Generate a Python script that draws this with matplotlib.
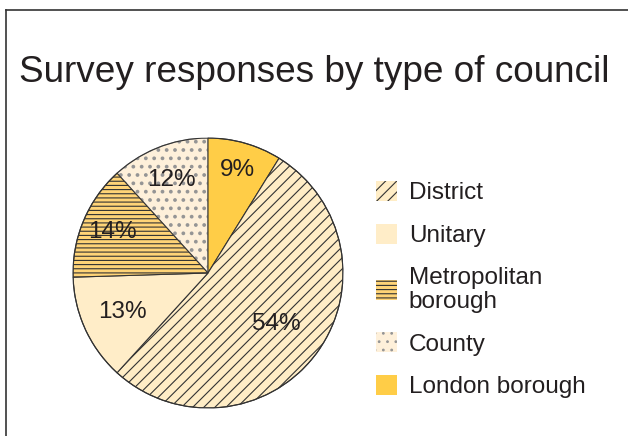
import matplotlib
matplotlib.use("Agg")
import matplotlib.pyplot as plt
from matplotlib.patches import Patch, Circle
from matplotlib.lines import Line2D
import numpy as np

plt.rcParams['font.family'] = ['Liberation Sans', 'DejaVu Sans']
plt.rcParams['hatch.linewidth'] = 0.8

# Data (pie order: clockwise from 12 o'clock)
categories = ["London borough", "District", "Unitary", "Metropolitan\nborough", "County"]
shares = [9, 54, 13, 14, 12]
legend_order = ["District", "Unitary", "Metropolitan\nborough", "County", "London borough"]

# Styles
fills = {"London borough": "#FFCD47", "District": "#FFEDC6", "Unitary": "#FFEDC8",
         "Metropolitan\nborough": "#FFD477", "County": "#FEF0DA"}
hatches = {"London borough": None, "District": "///", "Unitary": None,
           "Metropolitan\nborough": "----", "County": ".."}
hatch_cols = {"London borough": "#333333", "District": "#333333", "Unitary": "#333333",
              "Metropolitan\nborough": "#333333", "County": "#959595"}
hatch_lw = {"County": 1.5}
label_r = [0.79, 0.63, 0.70, 0.77, 0.74]
TXT = "#231F20"


def style_hatch_lw(patch, name):
    if name in hatch_lw and hasattr(patch, "set_hatch_linewidth"):
        patch.set_hatch_linewidth(hatch_lw[name])


fig = plt.figure(figsize=(6.28, 4.36), dpi=100)
ax = fig.add_axes([(208 - 135) / 628, (436 - 273 - 135) / 436, 270 / 628, 270 / 436])

wedges, _ = ax.pie(shares, startangle=90, counterclock=False, radius=1.0,
                   colors=[fills[c] for c in categories],
                   wedgeprops=dict(linewidth=0.8, edgecolor="#333333"))
for w, c in zip(wedges, categories):
    if hatches[c]:
        w.set_hatch(hatches[c])
    w.set_edgecolor(hatch_cols[c])
    style_hatch_lw(w, c)
    if c == "County":
        w.set_zorder(0.5)
ax.add_patch(Circle((0, 0), 1.0, fill=False, edgecolor="#333333", linewidth=0.8, zorder=3))

tot = sum(shares)
cum = 0
for s, r in zip(shares, label_r):
    mid = 90 - (cum + s / 2) / tot * 360
    cum += s
    ax.text(r * np.cos(np.radians(mid)), r * np.sin(np.radians(mid)), f"{s}%",
            ha="center", va="center", fontsize=17.5, color=TXT, zorder=4)

ax.set_xlim(-1, 1)
ax.set_ylim(-1, 1)
ax.axis("off")

handles = []
for c in legend_order:
    p = Patch(facecolor=fills[c], edgecolor=hatch_cols[c], hatch=hatches[c], linewidth=0)
    style_hatch_lw(p, c)
    handles.append(p)
leg = fig.legend(handles, legend_order, loc="upper left",
                 bbox_to_anchor=(376 / 628, 1 - 181 / 436), frameon=False,
                 fontsize=17.5, handlelength=0.87, handleheight=0.87, handletextpad=0.48,
                 labelspacing=0.81, borderpad=0, borderaxespad=0)
for t in leg.get_texts():
    t.set_color(TXT)
    t.set_linespacing(1.1)

fig.text(0.5, 1 - 82 / 436, "Survey responses by type of council", ha="center",
         va="baseline", fontsize=26.6, color=TXT)

# frame lines
fig.add_artist(Line2D([6 / 628, 6 / 628], [0, 1 - 10 / 436], transform=fig.transFigure,
                      color="#333333", linewidth=1.2))
fig.add_artist(Line2D([6 / 628, 1], [1 - 10 / 436, 1 - 10 / 436], transform=fig.transFigure,
                      color="#333333", linewidth=1.2))

fig.savefig("out.png", dpi=100)
